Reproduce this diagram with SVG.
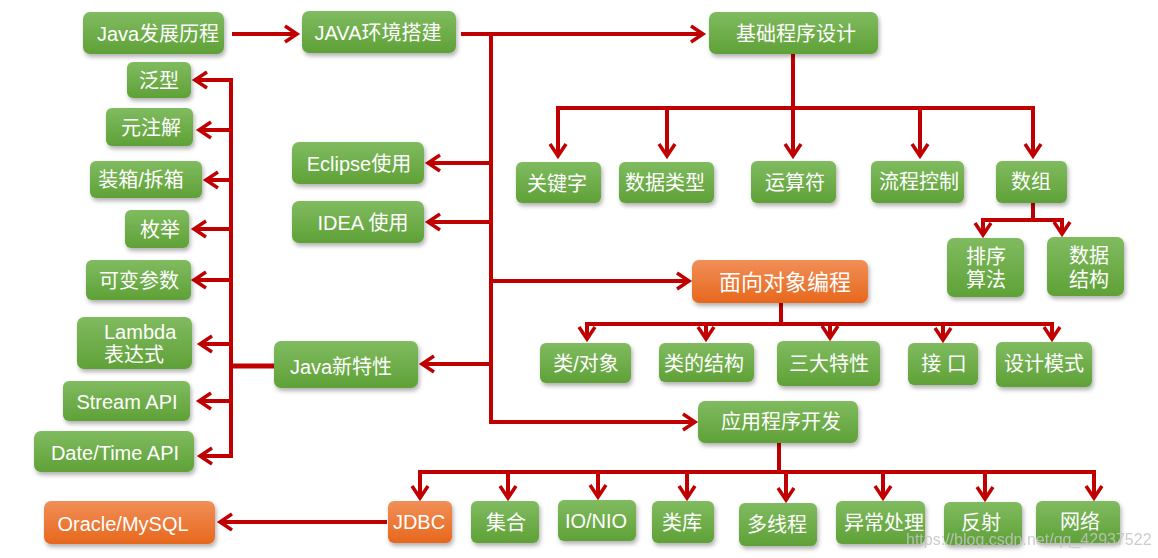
<svg xmlns="http://www.w3.org/2000/svg" width="1158" height="558" viewBox="0 0 1158 558">
<style>
.g{fill:url(#gg);filter:url(#sh)}
.o{fill:url(#og);filter:url(#sh)}
text{font-family:"Liberation Sans","Noto Sans CJK SC",sans-serif;font-size:20px;fill:#ffffff;text-anchor:middle;dominant-baseline:central}
.c{fill:none;stroke:#c00000;stroke-width:4}
.a{fill:none;stroke:#c00000;stroke-width:4;marker-end:url(#ah)}
.wm{font-size:16px;fill:#c4c4c4;opacity:0.85;text-anchor:start;dominant-baseline:alphabetic}
</style>
<defs>
<linearGradient id="gg" x1="0" y1="0" x2="0" y2="1">
<stop offset="0" stop-color="#80bb60"/>
<stop offset="1" stop-color="#5fa137"/>
</linearGradient>
<linearGradient id="og" x1="0" y1="0" x2="0" y2="1">
<stop offset="0" stop-color="#f18f58"/>
<stop offset="1" stop-color="#e7671c"/>
</linearGradient>
<filter id="sh" x="-10%" y="-15%" width="125%" height="140%">
<feDropShadow dx="1.5" dy="3" stdDeviation="2" flood-color="#000" flood-opacity="0.3"/>
</filter>
<marker id="ah" markerUnits="userSpaceOnUse" viewBox="-16 -10 20 20" refX="0" refY="0" markerWidth="20" markerHeight="20" orient="auto" overflow="visible">
<path d="M-12,-8 L0,0 L-12,8" fill="none" stroke="#c00000" stroke-width="3.5"/>
</marker>
</defs>
<rect width="1158" height="558" fill="#ffffff"/>

<g id="connectors">
<path class="a" d="M232,34 H297"/>
<path class="a" d="M461,34 H703"/>
<path class="c" d="M491,32 V424"/>
<path class="a" d="M491,163 H428"/>
<path class="a" d="M491,222 H428"/>
<path class="a" d="M491,281 H689"/>
<path class="a" d="M491,364 H422"/>
<path class="a" d="M491,422 H695"/>
<path class="c" d="M793,54 V108"/>
<path class="c" d="M556,108 H1035"/>
<path class="a" d="M558,108 V156"/>
<path class="a" d="M667,108 V156"/>
<path class="a" d="M793,108 V156"/>
<path class="a" d="M920,108 V156"/>
<path class="a" d="M1033,106 V156"/>
<path class="c" d="M1033,203 V220"/>
<path class="c" d="M981,220 H1064"/>
<path class="a" d="M983,218 V235"/>
<path class="a" d="M1062,218 V234"/>
<path class="c" d="M781,303 V324"/>
<path class="c" d="M585,324 H1054"/>
<path class="a" d="M587,322 V339"/>
<path class="a" d="M706,324 V339"/>
<path class="a" d="M830,324 V338"/>
<path class="a" d="M943,324 V340"/>
<path class="a" d="M1052,322 V339"/>
<path class="c" d="M779,443 V472"/>
<path class="c" d="M418,472 H1096"/>
<path class="a" d="M420,470 V498"/>
<path class="a" d="M508,472 V498"/>
<path class="a" d="M598,472 V497"/>
<path class="a" d="M687,472 V498"/>
<path class="a" d="M786,472 V500"/>
<path class="a" d="M883,472 V498"/>
<path class="a" d="M985,472 V499"/>
<path class="a" d="M1094,470 V498"/>
<path class="a" d="M387,522 H220"/>
<path class="c" d="M274,366 H231" style="stroke-width:5"/>
<path class="c" d="M231,78 V458"/>
<path class="a" d="M233,80 H195"/>
<path class="a" d="M231,130 H199"/>
<path class="a" d="M231,180 H206"/>
<path class="a" d="M231,229 H194"/>
<path class="a" d="M231,280 H194"/>
<path class="a" d="M231,344 H200"/>
<path class="a" d="M231,401 H199"/>
<path class="a" d="M233,456 H200"/>
</g>

<g id="n-java-history"><rect class="g" x="83" y="12" width="141" height="42" rx="7"/><text x="158" y="34">Java发展历程</text></g>
<g id="n-java-env"><rect class="g" x="302" y="11" width="154" height="42" rx="7"/><text x="378" y="33">JAVA环境搭建</text></g>
<g id="n-basic"><rect class="g" x="709" y="12" width="169" height="42" rx="7"/><text x="796" y="34">基础程序设计</text></g>

<g id="n-generic"><rect class="g" x="127" y="62" width="64" height="36" rx="6"/><text x="159" y="81">泛型</text></g>
<g id="n-annotation"><rect class="g" x="106" y="108" width="87" height="38" rx="6"/><text x="151" y="128">元注解</text></g>
<g id="n-boxing"><rect class="g" x="90" y="161" width="112" height="37" rx="6"/><text x="141" y="180">装箱/拆箱</text></g>
<g id="n-enum"><rect class="g" x="125" y="210" width="64" height="38" rx="6"/><text x="160" y="230">枚举</text></g>
<g id="n-varargs"><rect class="g" x="86" y="260" width="105" height="40" rx="6"/><text x="139" y="281">可变参数</text></g>
<g id="n-lambda"><rect class="g" x="77" y="317" width="115" height="52" rx="7"/><text x="104" y="332" style="text-anchor:start">Lambda</text><text x="104" y="355" style="text-anchor:start">表达式</text></g>
<g id="n-stream"><rect class="g" x="63" y="381" width="127" height="40" rx="6"/><text x="127" y="402">Stream API</text></g>
<g id="n-datetime"><rect class="g" x="34" y="431" width="160" height="41" rx="7"/><text x="115" y="453">Date/Time API</text></g>

<g id="n-eclipse"><rect class="g" x="292" y="142" width="132" height="42" rx="7"/><text x="359" y="164">Eclipse使用</text></g>
<g id="n-idea"><rect class="g" x="292" y="201" width="132" height="42" rx="7"/><text x="363" y="223">IDEA 使用</text></g>
<g id="n-java-new"><rect class="g" x="274" y="341" width="144" height="47" rx="7"/><text x="341" y="367">Java新特性</text></g>

<g id="n-keyword"><rect class="g" x="516" y="162" width="85" height="41" rx="6"/><text x="557" y="184">关键字</text></g>
<g id="n-datatype"><rect class="g" x="619" y="162" width="95" height="41" rx="6"/><text x="665" y="183">数据类型</text></g>
<g id="n-operator"><rect class="g" x="751" y="161" width="85" height="42" rx="6"/><text x="795" y="183">运算符</text></g>
<g id="n-flow"><rect class="g" x="871" y="161" width="93" height="42" rx="6"/><text x="919" y="182">流程控制</text></g>
<g id="n-array"><rect class="g" x="996" y="161" width="71" height="42" rx="6"/><text x="1031" y="182">数组</text></g>
<g id="n-sort"><rect class="g" x="947" y="238" width="77" height="59" rx="7"/><text x="986" y="257">排序</text><text x="986" y="280">算法</text></g>
<g id="n-ds"><rect class="g" x="1047" y="237" width="77" height="59" rx="7"/><text x="1089" y="256">数据</text><text x="1089" y="280">结构</text></g>

<g id="n-oop"><rect class="o" x="692" y="260" width="176" height="43" rx="7"/><text x="785" y="282" style="font-size:22px">面向对象编程</text></g>
<g id="n-class-obj"><rect class="g" x="540" y="343" width="91" height="40" rx="6"/><text x="586" y="364">类/对象</text></g>
<g id="n-class-struct"><rect class="g" x="659" y="343" width="95" height="39" rx="6"/><text x="704" y="364">类的结构</text></g>
<g id="n-three"><rect class="g" x="777" y="341" width="103" height="45" rx="6"/><text x="829" y="364">三大特性</text></g>
<g id="n-interface"><rect class="g" x="908" y="343" width="70" height="42" rx="6"/><text x="944" y="364">接 口</text></g>
<g id="n-pattern"><rect class="g" x="996" y="342" width="96" height="45" rx="6"/><text x="1044" y="364">设计模式</text></g>

<g id="n-app"><rect class="g" x="698" y="401" width="160" height="42" rx="7"/><text x="781" y="422">应用程序开发</text></g>
<g id="n-jdbc"><rect class="o" x="388" y="501" width="64" height="42" rx="6"/><text x="419" y="522">JDBC</text></g>
<g id="n-collection"><rect class="g" x="471" y="501" width="68" height="42" rx="6"/><text x="506" y="523">集合</text></g>
<g id="n-io"><rect class="g" x="558" y="500" width="78" height="41" rx="6"/><text x="596" y="521">IO/NIO</text></g>
<g id="n-lib"><rect class="g" x="652" y="501" width="62" height="42" rx="6"/><text x="682" y="523">类库</text></g>
<g id="n-thread"><rect class="g" x="739" y="503" width="78" height="43" rx="6"/><text x="777" y="525">多线程</text></g>
<g id="n-exception"><rect class="g" x="836" y="501" width="89" height="43" rx="6"/><text x="884" y="523">异常处理</text></g>
<g id="n-reflect"><rect class="g" x="944" y="502" width="78" height="43" rx="6"/><text x="981" y="523">反射</text></g>
<g id="n-network"><rect class="g" x="1036" y="501" width="84" height="42" rx="6"/><text x="1080" y="522">网络</text></g>
<g id="n-oracle"><rect class="o" x="44" y="501" width="171" height="43" rx="7"/><text x="123" y="524">Oracle/MySQL</text></g>

<text class="wm" x="906" y="545">https://blog.csdn.net/qq_42937522</text>
</svg>
